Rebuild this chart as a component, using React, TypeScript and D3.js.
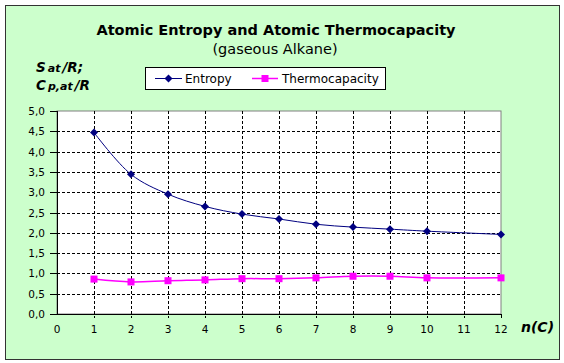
import React from "react";
import * as d3 from "d3";

const nValues = [1, 2, 3, 4, 5, 6, 7, 8, 9, 10, 12];
const entropy = [4.47, 3.44, 2.95, 2.65, 2.46, 2.34, 2.21, 2.14, 2.09, 2.04, 1.96];
const thermocapacity = [0.86, 0.79, 0.82, 0.84, 0.87, 0.87, 0.89, 0.93, 0.93, 0.89, 0.89];
const xTicks = [0, 1, 2, 3, 4, 5, 6, 7, 8, 9, 10, 11, 12];
const yTicks = [0, 0.5, 1, 1.5, 2, 2.5, 3, 3.5, 4, 4.5, 5];

const FONT = "'DejaVu Sans', Verdana, sans-serif";
const DIAMOND = "M0,-4L4,0L0,4L-4,0Z";

export default function App() {
  const x = d3.scaleLinear().domain([0, 12]).range([57, 501]);
  const y = d3.scaleLinear().domain([0, 5]).range([314, 111]);
  const line = d3
    .line<number>()
    .x((_, i) => x(nValues[i]))
    .y((d) => y(d))
    .curve(d3.curveCatmullRom.alpha(0.5));
  const fmt = (v: number) => v.toFixed(1).replace(".", ",");

  return (
    <svg
      width={564}
      height={363}
      style={{ position: "absolute", left: 0, top: 0 }}
      fontFamily={FONT}
    >
      <rect x={0} y={0} width={564} height={363} fill="#ffffff" />
      <rect x={5.5} y={5.5} width={554} height={354} fill="#ccffcc" stroke="#333" strokeWidth={1} />
      {/* Title */}
      <text x={276} y={35} textAnchor="middle" fontSize={14.5} fontWeight="bold" fill="#000">
        Atomic Entropy and Atomic Thermocapacity
      </text>
      <text x={275} y={54} textAnchor="middle" fontSize={14.5} fill="#000">
        (gaseous Alkane)
      </text>
      {/* Y axis title */}
      <text x={36} y={72} fontSize={13.5} fontWeight="bold" fontStyle="italic" fill="#000">
        S<tspan fontSize={11} dx={2}>at</tspan><tspan dx={2}>/R;</tspan>
      </text>
      <text x={36} y={90} fontSize={13.5} fontWeight="bold" fontStyle="italic" fill="#000">
        C<tspan fontSize={11} dx={2}>p,at</tspan><tspan dx={2}>/R</tspan>
      </text>
      {/* Plot area */}
      <rect x={57} y={111} width={444} height={203} fill="#ffffff" stroke="#808080" strokeWidth={1} />
      {/* Grid */}
      {yTicks.slice(1, -1).map((t) => (
        <line key={"gy" + t} x1={57} x2={501} y1={Math.round(y(t)) + 0.5} y2={Math.round(y(t)) + 0.5}
          stroke="#000" strokeDasharray="3,2" strokeWidth={1} />
      ))}
      {xTicks.slice(1, -1).map((t) => (
        <line key={"gx" + t} x1={Math.round(x(t)) + 0.5} x2={Math.round(x(t)) + 0.5} y1={111} y2={318}
          stroke="#000" strokeDasharray="3,2" strokeWidth={1} />
      ))}
      <line x1={501.5} x2={501.5} y1={314} y2={318} stroke="#000" />
      {/* Axes */}
      <line x1={57.5} x2={57.5} y1={111} y2={315} stroke="#000" strokeWidth={1} />
      <line x1={57} x2={501} y1={314.5} y2={314.5} stroke="#000" strokeWidth={1} />
      {yTicks.map((t) => (
        <g key={"yt" + t}>
          <line x1={50} x2={57} y1={Math.round(y(t)) + 0.5} y2={Math.round(y(t)) + 0.5} stroke="#000" />
          <text x={45} y={y(t) + 4} textAnchor="end" fontSize={10.5} fill="#000">
            {fmt(t)}
          </text>
        </g>
      ))}
      {xTicks.map((t) => (
        <text key={"xt" + t} x={x(t)} y={333} textAnchor="middle" fontSize={10.5} fill="#000">
          {t}
        </text>
      ))}
      <text x={521} y={332} fontSize={14} fontWeight="bold" fontStyle="italic" fill="#000">
        n(C)
      </text>
      {/* Series */}
      <path d={line(thermocapacity) || ""} fill="none" stroke="#ff00ff" strokeWidth={1.5} />
      <path d={line(entropy) || ""} fill="none" stroke="#000080" strokeWidth={1} />
      {thermocapacity.map((v, i) => (
        <rect key={"tm" + i} x={x(nValues[i]) - 3.5} y={y(v) - 3.5} width={7} height={7} fill="#ff00ff" />
      ))}
      {entropy.map((v, i) => (
        <path key={"em" + i} d={DIAMOND} transform={`translate(${x(nValues[i])},${y(v)})`} fill="#000080" />
      ))}
      {/* Legend */}
      <rect x={145.5} y={67.5} width={240} height={22} fill="#ffffff" stroke="#000" strokeWidth={1} />
      <line x1={155} x2={182} y1={78.5} y2={78.5} stroke="#000080" strokeWidth={1} />
      <path d={DIAMOND} transform="translate(168.5,78.5)" fill="#000080" />
      <text x={185} y={83} fontSize={12} fill="#000">Entropy</text>
      <line x1={252} x2={278} y1={78.5} y2={78.5} stroke="#ff00ff" strokeWidth={1.5} />
      <rect x={261.5} y={75} width={7} height={7} fill="#ff00ff" />
      <text x={282} y={83} fontSize={12} fill="#000">Thermocapacity</text>
    </svg>
  );
}
